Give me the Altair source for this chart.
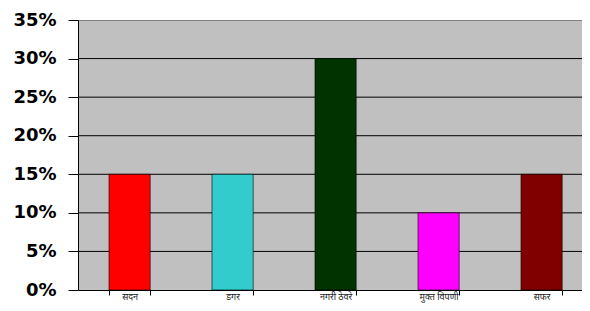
import altair as alt
import pandas as pd

categories = ["सदन", "डगर", "नगरी ठेवरे", "मुक्त विपणी", "सफर"]
values = [0.15, 0.15, 0.30, 0.10, 0.15]
colors = ["#FF0000", "#33CCCC", "#003300", "#FF00FF", "#800000"]
y_ticks = [0, 0.05, 0.10, 0.15, 0.20, 0.25, 0.30, 0.35]
grid_vals = [0.05, 0.10, 0.15, 0.20, 0.25, 0.30]

df = pd.DataFrame({"cat": categories, "val": values, "color": colors})

y_axis = alt.Axis(values=y_ticks, format=".0%", grid=False, tickSize=10,
                  tickColor="black", domainColor="black", labelPadding=12,
                  labelOverlap=False, labelBound=False, labelFontWeight="bold",
                  labelFontSize=18, labelFont="DejaVu Sans", labelColor="black")

grid = alt.Chart(pd.DataFrame({"g": grid_vals})).mark_rule(color="black", strokeWidth=1).encode(
    y=alt.Y("g:Q", scale=alt.Scale(domain=[0, 0.35]), title=None, axis=y_axis)
)

bars = alt.Chart(df).mark_bar(stroke="black", strokeWidth=0.6).encode(
    x=alt.X("cat:N", sort=categories, title=None,
            scale=alt.Scale(paddingInner=0.6, paddingOuter=0.2466, align=0.61),
            axis=alt.Axis(labelAngle=0, labelFontSize=9, labelColor="#222222",
                          labelBaseline="alphabetic",
                          tickBand="extent", tickSize=5, tickColor="black",
                          domainColor="black", labelPadding=4, labelFont="Noto Sans")),
    y=alt.Y("val:Q", title=None, scale=alt.Scale(domain=[0, 0.35]), axis=y_axis),
    color=alt.Color("color:N", scale=None),
)

chart = (grid + bars).properties(
    width=504, height=270,
    padding={"left": 70, "top": 12, "right": 0, "bottom": 13},
    autosize=alt.AutoSizeParams(type="none"),
    background="white",
).configure_view(fill="#C0C0C0", stroke="#808080", strokeWidth=1
).configure_axis(labelOverlap=False)

chart.save("out.html", embed_options={"renderer": "svg", "actions": False})
